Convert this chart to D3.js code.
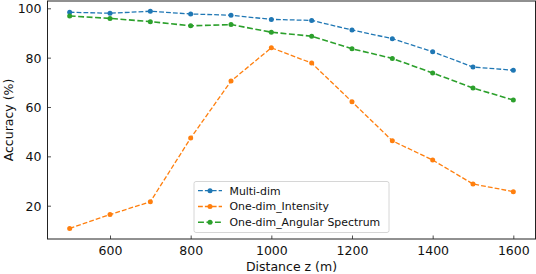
<!DOCTYPE html>
<html><head><meta charset="utf-8">
<script src="https://cdn.jsdelivr.net/npm/d3@7"></script>
<style>body{margin:0;background:#fff}svg{display:block}</style>
</head><body>
<svg id="c" width="536" height="274"></svg>
<script>
const distances = [500,600,700,800,900,1000,1100,1200,1300,1400,1500,1600];
const multiDim = [98.4,98.0,98.8,97.7,97.2,95.5,95.1,91.2,87.7,82.4,76.2,74.9];
const intensity = [10.8,16.4,21.6,47.4,70.5,84.0,77.8,62.1,46.3,38.5,28.8,25.7];
const angular = [96.9,95.9,94.6,92.9,93.4,90.3,88.7,83.6,79.7,73.8,67.7,62.8];
const seriesNames = ["Multi-dim","One-dim_Intensity","One-dim_Angular Spectrum"];
const xTicks = [600,800,1000,1200,1400,1600];
const yTicks = [20,40,60,80,100];

const colors = ["#1f77b4","#ff7f0e","#2ca02c"];
const widths = [1.3,1.3,1.6];
const series = [multiDim,intensity,angular];

const svg = d3.select("#c");
const L=47.5,R=535.5,T=1,B=239;
const x = d3.scaleLinear().domain([445,1655]).range([L,R]);
const y = d3.scaleLinear().domain([6.5,102.96]).range([B,T]);
const font = "DejaVu Sans, sans-serif";

// axes
const gx = svg.append("g").attr("transform",`translate(0,${B})`)
  .call(d3.axisBottom(x).tickValues(xTicks).tickFormat(d3.format("d")).tickSizeInner(-3.5).tickSizeOuter(0).tickPadding(7));
const gy = svg.append("g").attr("transform",`translate(${L},0)`)
  .call(d3.axisLeft(y).tickValues(yTicks).tickFormat(d3.format("d")).tickSizeInner(-3.5).tickSizeOuter(0).tickPadding(6));
[gx,gy].forEach(g=>{
  g.select(".domain").remove();
  g.selectAll(".tick line").attr("stroke","#222").attr("stroke-width",0.8);
  g.selectAll(".tick text").attr("font-family",font).attr("font-size",12.5).attr("fill","#111");
});
gy.selectAll(".tick text").attr("dy","0.35em");

// lines
const line = d3.line().x((d,i)=>x(distances[i])).y(d=>y(d));
series.forEach((s,k)=>{
  const lw = widths[k];
  svg.append("path").datum(s).attr("d",line).attr("fill","none")
    .attr("stroke",colors[k]).attr("stroke-width",lw)
    .attr("stroke-dasharray",`${3.7*lw},${1.6*lw}`);
  svg.append("g").selectAll("circle").data(s).join("circle")
    .attr("cx",(d,i)=>x(distances[i])).attr("cy",d=>y(d)).attr("r",2.5)
    .attr("fill",colors[k]);
});

// frame
svg.append("rect").attr("x",L).attr("y",T).attr("width",R-L).attr("height",B-T)
  .attr("fill","none").attr("stroke","#222").attr("stroke-width",1);

// labels
svg.append("text").attr("x",(L+R)/2).attr("y",271).attr("text-anchor","middle")
  .attr("font-family",font).attr("font-size",12.5).attr("fill","#111").text("Distance z (m)");
svg.append("text").attr("transform",`translate(13,${(T+B)/2}) rotate(-90)`).attr("text-anchor","middle")
  .attr("font-family",font).attr("font-size",12.5).attr("fill","#111").text("Accuracy (%)");

// legend
const lg = svg.append("g");
lg.append("rect").attr("x",194).attr("y",181.5).attr("width",195).attr("height",51).attr("rx",2)
  .attr("fill","#fff").attr("fill-opacity",0.8).attr("stroke","#ccc").attr("stroke-width",0.8);
seriesNames.forEach((n,k)=>{
  const yy = 190.7 + k*15.8;
  const lw = widths[k];
  lg.append("line").attr("x1",198).attr("x2",222).attr("y1",yy).attr("y2",yy)
    .attr("stroke",colors[k]).attr("stroke-width",lw).attr("stroke-dasharray",`${3.7*lw},${1.6*lw}`);
  lg.append("circle").attr("cx",210).attr("cy",yy).attr("r",2.5).attr("fill",colors[k]);
  lg.append("text").attr("x",229.5).attr("y",yy).attr("dy","0.35em")
    .attr("font-family",font).attr("font-size",10.9).attr("fill","#111").text(n);
});
</script>
</body></html>
